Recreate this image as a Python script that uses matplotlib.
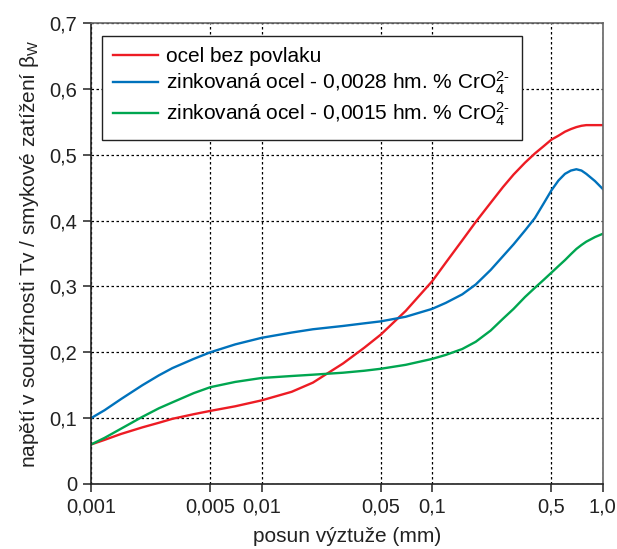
import matplotlib
matplotlib.use('Agg')
import matplotlib.pyplot as plt
from matplotlib.ticker import FixedLocator, FixedFormatter, NullLocator

plt.rcParams['font.family'] = ['Liberation Sans', 'DejaVu Sans']
plt.rcParams['mathtext.fontset'] = 'custom'
plt.rcParams['mathtext.rm'] = 'Liberation Sans'
plt.rcParams['mathtext.it'] = 'Liberation Sans'
plt.rcParams['mathtext.default'] = 'regular'

# data
posun = [0.001, 0.0012, 0.0015, 0.002, 0.0025, 0.003, 0.004, 0.005, 0.007, 0.01,
         0.015, 0.02, 0.03, 0.04, 0.05, 0.07, 0.1, 0.12, 0.15, 0.18, 0.22, 0.26,
         0.3, 0.35, 0.4, 0.45, 0.5, 0.55, 0.6, 0.65, 0.7, 0.75, 0.8, 0.9, 1.0]
ocel = [0.060, 0.067, 0.076, 0.086, 0.093, 0.099, 0.106, 0.111, 0.118, 0.127,
        0.140, 0.154, 0.183, 0.207, 0.227, 0.263, 0.308, 0.336, 0.370, 0.398, 0.427, 0.451,
        0.470, 0.488, 0.502, 0.513, 0.523, 0.529, 0.535, 0.539, 0.542, 0.544, 0.545, 0.545, 0.545]
zink_28 = [0.100, 0.112, 0.129, 0.150, 0.165, 0.176, 0.190, 0.200, 0.212, 0.222,
           0.230, 0.235, 0.240, 0.244, 0.247, 0.254, 0.266, 0.275, 0.288, 0.303, 0.325, 0.346,
           0.364, 0.385, 0.404, 0.426, 0.446, 0.461, 0.471, 0.476, 0.478, 0.476, 0.471, 0.460, 0.448]
zink_15 = [0.060, 0.070, 0.084, 0.102, 0.115, 0.124, 0.138, 0.147, 0.155, 0.161,
           0.164, 0.166, 0.169, 0.172, 0.175, 0.181, 0.190, 0.196, 0.205, 0.216, 0.233, 0.251,
           0.266, 0.284, 0.298, 0.310, 0.321, 0.331, 0.340, 0.349, 0.357, 0.363, 0.368, 0.375, 0.380]

labels = ['ocel bez povlaku',
          r'zinkovaná ocel - 0,0028 hm. % CrO$_4^{2\text{-}}$',
          r'zinkovaná ocel - 0,0015 hm. % CrO$_4^{2\text{-}}$']
colors = ['#ED1C24', '#0072BC', '#00A650']

xticks = [0.001, 0.005, 0.01, 0.05, 0.1, 0.5, 1.0]
xticklabels = ['0,001', '0,005', '0,01', '0,05', '0,1', '0,5', '1,0']
yticks = [0, 0.1, 0.2, 0.3, 0.4, 0.5, 0.6, 0.7]
yticklabels = ['0', '0,1', '0,2', '0,3', '0,4', '0,5', '0,6', '0,7']

fs = 15
fig = plt.figure(figsize=(6.17, 5.49), dpi=100)
ax = fig.add_axes([0.1475, 0.1184, 0.8295, 0.8396])

for ys, lab, c in zip([ocel, zink_28, zink_15], labels, colors):
    ax.plot(posun, ys, color=c, lw=1.7, label=lab)

ax.set_xscale('log')
ax.set_xlim(0.001, 1.0)
ax.set_ylim(0, 0.7)
ax.xaxis.set_major_locator(FixedLocator(xticks))
ax.xaxis.set_major_formatter(FixedFormatter(xticklabels))
ax.xaxis.set_minor_locator(NullLocator())
ax.set_yticks(yticks)
ax.set_yticklabels(yticklabels)

ax.grid(True, color='black', lw=0.9, linestyle=(0, (2, 2)))
ax.tick_params(direction='out', length=6, width=1.1, labelsize=fs - 0.5,
               color='#222222', labelcolor='#222222', pad=4)

for s in ['left', 'bottom']:
    ax.spines[s].set_color('#222222')
    ax.spines[s].set_linewidth(1.2)
for s in ['top', 'right']:
    ax.spines[s].set_color('#666666')
    ax.spines[s].set_linewidth(1.2)

ax.set_xlabel('posun výztuže (mm)', fontsize=fs, color='#222222', labelpad=7.5)
ax.set_ylabel('napětí v soudržnosti Tv / smykové zatížení β$_W$', fontsize=fs,
              color='#222222', labelpad=6)

leg = ax.legend(loc='upper left', bbox_to_anchor=(0.021, 0.972), borderaxespad=0,
                fontsize=fs, frameon=True, fancybox=False, edgecolor='#222222',
                framealpha=1, handlelength=2.15, handletextpad=0.4,
                labelspacing=0.17, borderpad=0.55)
leg.get_frame().set_linewidth(1.0)

fig.savefig('out.png', dpi=100)
